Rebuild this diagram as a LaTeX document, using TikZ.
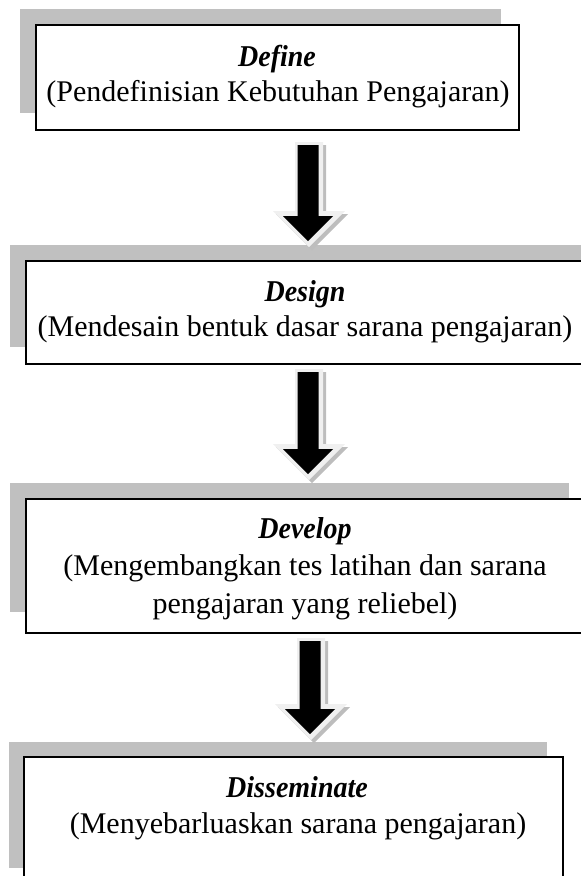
\documentclass[tikz,border=0pt]{standalone}
\usepackage{fontspec}
\setmainfont{Liberation Serif}
\definecolor{shadowgray}{HTML}{C0C0C0}
\definecolor{arrowlight}{HTML}{F0F0F0}
\definecolor{arrowshade}{HTML}{BDBDBD}
\tikzset{
  shadebox/.style={fill=shadowgray, draw=none, inner sep=0pt, anchor=north west},
  mainbox/.style={draw=black, line width=1.8pt, fill=white, inner sep=0pt, anchor=north west},
  titletext/.style={font=\fontsize{28}{34}\selectfont\bfseries\itshape, anchor=base, inner sep=0pt, yscale=1.08, transform shape},
  bodytext/.style={font=\fontsize{30}{36}\selectfont, anchor=base, inner sep=0pt},
}
% #1 = centre x, #2 = top of light arrow, #3 = tip of light arrow
\newcommand\myblockarrow[3]{%
  \fill[arrowshade] ({#1-14+3},{#2+3}) -- ({#1+14+3},{#2+3}) -- ({#1+14+3},{#3-36+3}) -- ({#1+36+3},{#3-36+3}) -- ({#1+3},{#3+3}) -- ({#1-36+3},{#3-36+3}) -- ({#1-14+3},{#3-36+3}) -- cycle;
  \fill[arrowlight] ({#1-14},{#2}) -- ({#1+14},{#2}) -- ({#1+14},{#3-36}) -- ({#1+36},{#3-36}) -- ({#1},{#3}) -- ({#1-36},{#3-36}) -- ({#1-14},{#3-36}) -- cycle;
  \fill[black] ({#1-1-10.5},{#2+3}) -- ({#1-1+10.5},{#2+3}) -- ({#1-1+10.5},{#3-6-25}) -- ({#1-1+25},{#3-6-25}) -- ({#1-1},{#3-6}) -- ({#1-1-25},{#3-6-25}) -- ({#1-1-10.5},{#3-6-25}) -- cycle;
}
\begin{document}
\begin{tikzpicture}[x=1pt,y=-1pt]
\useasboundingbox (0,0) rectangle (581,876);
\begin{scope}
\clip (0,0) rectangle (581,876);
% Box 1
\node[shadebox, minimum width=481pt, minimum height=104pt] (s1) at (20,9) {};
\node[mainbox, minimum width=483pt, minimum height=105pt] (b1) at (35,24) {};
\node[titletext] (t1) at (277,66) {Define};
\node[bodytext] (d1) at (278,101) {(Pendefinisian Kebutuhan Pengajaran)};
% Box 2
\node[shadebox, minimum width=575pt, minimum height=102pt] (s2) at (10,245) {};
\node[mainbox, minimum width=575pt, minimum height=103pt] (b2) at (25,260) {};
\node[titletext] (t2) at (305,301) {Design};
\node[bodytext] (d2) at (305,336) {(Mendesain bentuk dasar sarana pengajaran)};
% Box 3
\node[shadebox, minimum width=559pt, minimum height=129pt] (s3) at (10,483) {};
\node[mainbox, minimum width=559pt, minimum height=134pt] (b3) at (25,498) {};
\node[titletext] (t3) at (305,538) {Develop};
\node[bodytext] (d3) at (305,575) {(Mengembangkan tes latihan dan sarana};
\node[bodytext] (e3) at (305,613) {pengajaran yang reliebel)};
% Box 4
\node[shadebox, minimum width=538pt, minimum height=126pt] (s4) at (9,742) {};
\node[mainbox, minimum width=539pt, minimum height=140pt] (b4) at (23,756) {};
\node[titletext] (t4) at (297,797) {Disseminate};
\node[bodytext] (d4) at (298,833) {(Menyebarluaskan sarana pengajaran)};
% Arrows
\myblockarrow{309}{142}{247}
\myblockarrow{309}{369}{480}
\myblockarrow{311}{638}{740}
\end{scope}
\end{tikzpicture}
\end{document}
